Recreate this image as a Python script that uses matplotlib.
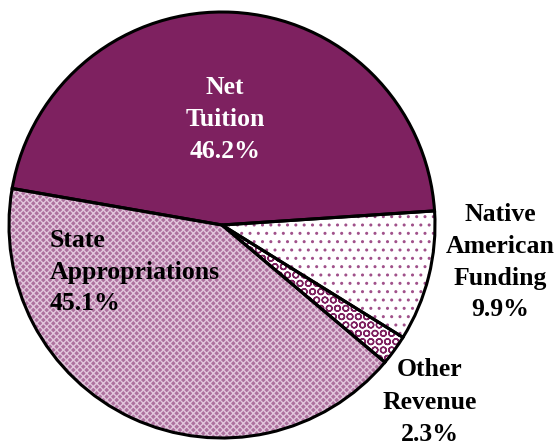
import matplotlib
matplotlib.use("Agg")
import matplotlib.pyplot as plt

# revenue sources, in drawing order (counter-clockwise from the right)
sources = ["Net\nTuition", "State\nAppropriations", "Other\nRevenue", "Native\nAmerican\nFunding"]
pct_labels = [46.2, 45.1, 2.3, 9.9]          # percentages printed on the chart
shares = [46.2, 41.6, 2.3, 9.9]              # wedge sizes as drawn (labels sum > 100)
colors = ["#7e2160", "#ad719e", "white", "white"]
hatches = [None, "xxxxx", "OO", ".."]
hatch_colors = ["#7e2160", "#e2c6dc", "#7e2160", "#a0508a"]

plt.rcParams["hatch.linewidth"] = 1.0

fig = plt.figure(figsize=(5.58, 4.44), dpi=100)
W, H = 558, 444
cx, cy, r = 222, 225, 213
ax = fig.add_axes([(cx - r) / W, (H - cy - r) / H, 2 * r / W, 2 * r / H])

start = 3.8
wedges, _ = ax.pie(shares, startangle=start, counterclock=True, radius=1,
                   normalize=True, colors=colors,
                   wedgeprops=dict(linewidth=0))
for w, h, hc in zip(wedges, hatches, hatch_colors):
    if h:
        w.set_hatch(h)
        w.set_edgecolor(hc)

# black outlines on top
ax.pie(shares, startangle=start, counterclock=True, radius=1, normalize=True,
       wedgeprops=dict(fill=False, edgecolor="black", linewidth=2.2))
ax.set_xlim(-1, 1)
ax.set_ylim(-1, 1)
ax.set_aspect("equal")
ax.axis("off")

# label positions in pixels (centre of each text block)
label_pos = [(225, 119, "center"), (50, 272, "left"), (430, 402, "center"), (500, 262, "center")]
text_colors = ["white", "black", "black", "black"]
for name, pct, (x, y, ha), tc in zip(sources, pct_labels, label_pos, text_colors):
    fig.text(x / W, 1 - y / H, f"{name}\n{pct:.1f}%", ha=ha, va="center",
             multialignment=ha, color=tc, fontsize=18.5, fontweight="bold",
             family="Liberation Serif", linespacing=1.5)

fig.savefig("out.png", dpi=100)
